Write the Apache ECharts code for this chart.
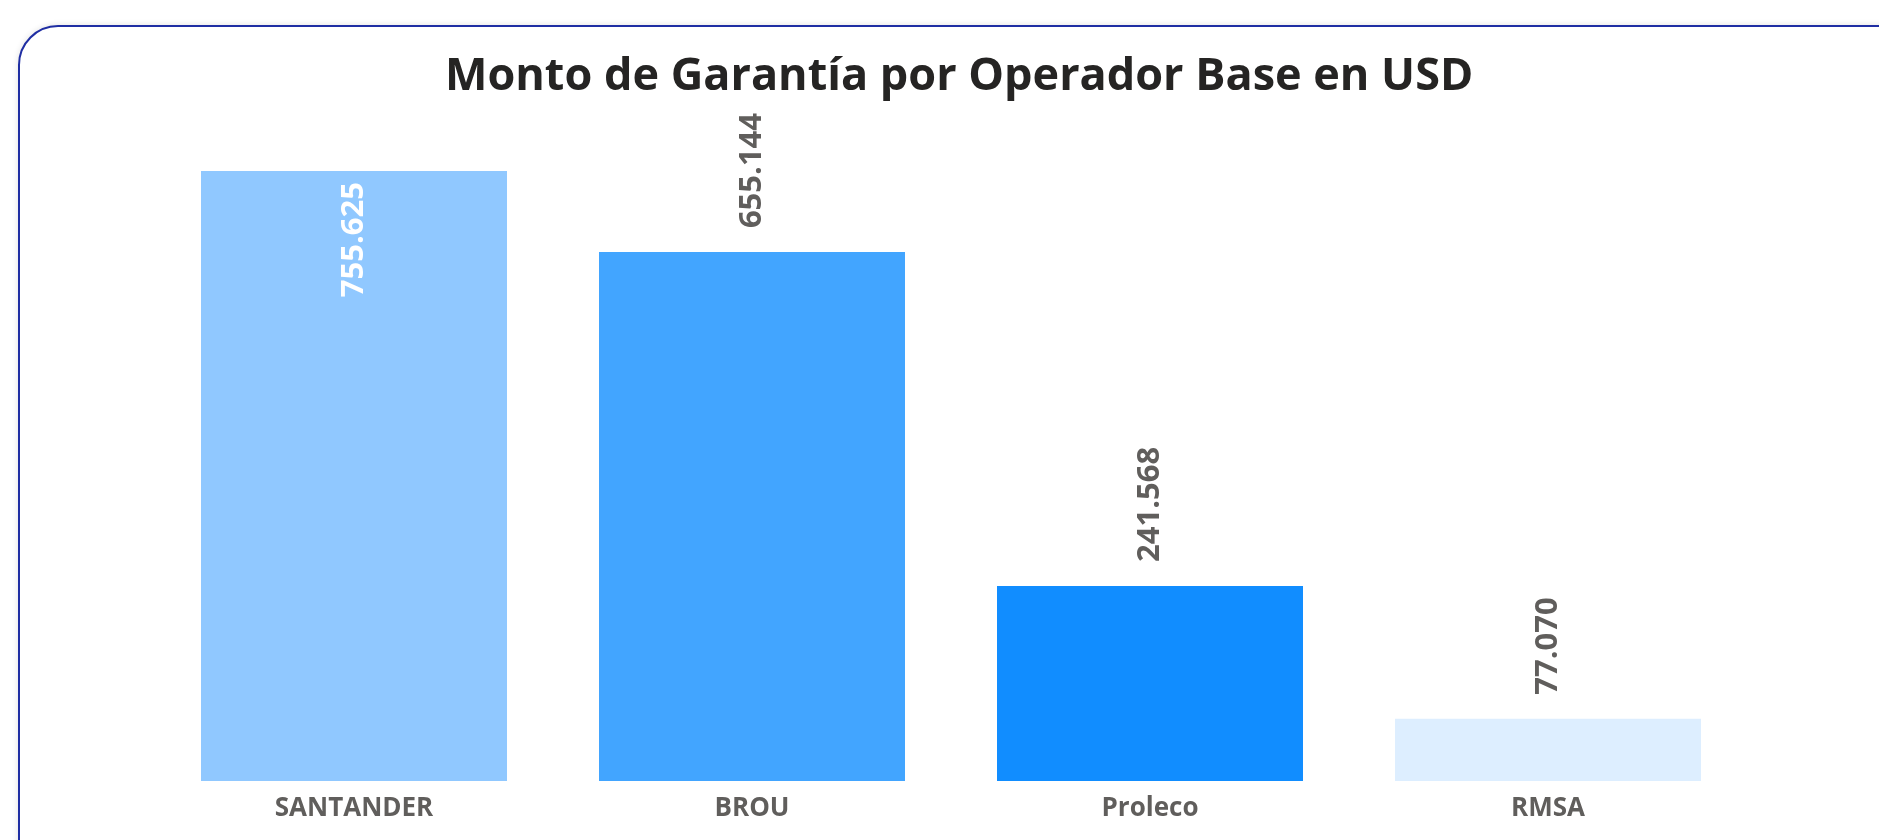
<!DOCTYPE html>
<html>
<head>
<meta charset="utf-8">
<script src="https://cdn.jsdelivr.net/npm/echarts@6/dist/echarts.min.js"></script>
<style>
  html, body { margin: 0; padding: 0; background: #fff; overflow: hidden; }
  #card {
    position: absolute; left: 18px; top: 25px;
    width: 1900px; height: 860px;
    border: 2px solid #1f2ea3; border-radius: 40px;
    box-shadow: 0 0 6px rgba(0, 0, 0, 0.12);
    background: #fff;
  }
  #containergraph { position: absolute; left: 0; top: 0; width: 1879px; height: 840px; }
</style>
</head>
<body>
<div id="card"></div>
<div id="containergraph"></div>
<script>
// datos del gráfico
const operadores = ["SANTANDER", "BROU", "Proleco", "RMSA"];
const montos = [755625, 655144, 241568, 77070];
const colores = ["#90C8FF", "#42A5FF", "#118DFF", "#DDEEFF"];

let dom = document.getElementById("containergraph");
let myChart = echarts.init(dom, null, { renderer: "canvas" });

// formato con punto como separador de miles
function formatoMiles(v) {
  return String(v).replace(/\B(?=(\d{3})+(?!\d))/g, ".");
}

const fuente = "'Open Sans', 'Noto Sans', sans-serif";

let option = {
  animation: false,
  title: {
    text: "Monto de Garantía por Operador Base en USD",
    left: 440,
    top: 50,
    textStyle: {
      fontFamily: fuente,
      fontSize: 45,
      fontWeight: "bold",
      color: "#252423",
    },
  },
  grid: { left: 155, right: 132, top: 171, bottom: 59 },
  xAxis: {
    type: "category",
    data: operadores,
    axisLine: { show: false },
    axisTick: { show: false },
    axisLabel: {
      margin: 15,
      fontFamily: fuente,
      fontSize: 26,
      fontWeight: "bold",
      color: "#605E5C",
    },
  },
  yAxis: {
    type: "value",
    min: 0,
    max: 755625,
    show: false,
    splitLine: { show: false },
  },
  series: [
    {
      type: "bar",
      barWidth: 306,
      data: montos.map((v, i) => {
        // el primero lleva la etiqueta dentro de la barra
        let dentro = i === 0;
        return {
          value: v,
          itemStyle: { color: colores[i] },
          label: dentro
            ? { position: "insideTop", align: "right", distance: 11, color: "#ffffff" }
            : { position: "top", align: "left", distance: 24, color: "#605E5C" },
        };
      }),
      label: {
        show: true,
        rotate: 90,
        verticalAlign: "middle",
        fontFamily: fuente,
        fontSize: 31,
        fontWeight: "bold",
        formatter: (p) => formatoMiles(p.value),
      },
    },
  ],
};

myChart.setOption(option);
window.addEventListener("resize", myChart.resize);
</script>
</body>
</html>
